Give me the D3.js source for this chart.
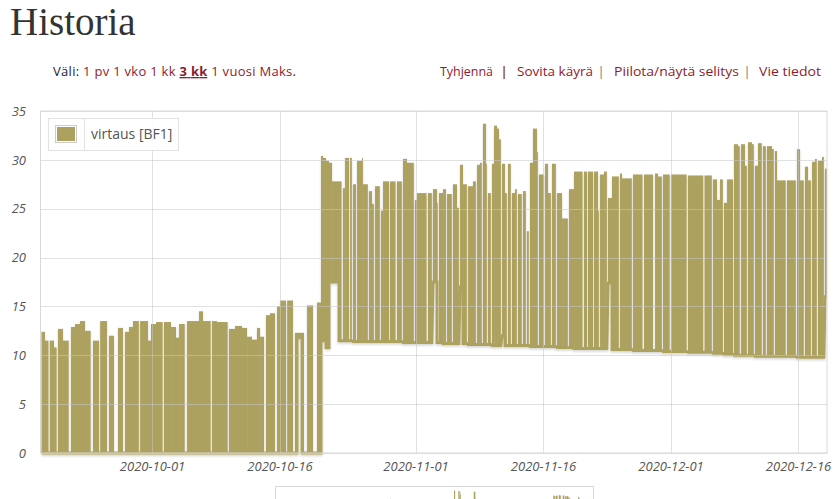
<!DOCTYPE html>
<html><head><meta charset="utf-8">
<script src="https://cdn.jsdelivr.net/npm/d3@7"></script>
<style>
body{margin:0;background:#fff;overflow:hidden}
svg{display:block}
</style>
</head><body>
<svg id="c" width="839" height="499"></svg>
<script>
// ---------------- DATA ----------------
const pageTitle = "Historia";
const seriesName = "virtaus [BF1]";
const baseDate = "2020-09-18";          // day offsets below are counted from this date (UTC)
const viewStartDay = -0.12;
const viewEndDay = 92.41;
const yTicks = [0, 5, 10, 15, 20, 25, 30, 35];
const xTickLabels = ["2020-10-01", "2020-10-16", "2020-11-01", "2020-11-16", "2020-12-01", "2020-12-16"];
const rangeLabel = "Väli:";
const rangeLinks = ["1 pv", "1 vko", "1 kk", "3 kk", "1 vuosi", "Maks"];
const activeRange = "3 kk";
const actionLinks = ["Tyhjennä", "Sovita käyrä", "Piilota/näytä selitys", "Vie tiedot"];

// flow signal blocks: start day, end day, upper value, lower value
const blockStart = [
  0.00,0.41,0.97,1.47,1.94,2.53,3.47,3.94,4.53,5.12,6.06,6.90,7.94,9.00,9.82,10.29,10.76,11.60,12.53,12.88,
  13.47,14.41,15.24,15.82,16.18,17.12,18.53,19.00,20.06,20.65,22.06,22.76,23.59,24.18,24.76,25.35,25.71,26.41,26.88,27.71,
  28.06,28.90,29.82,30.06,30.65,31.24,32.41,
  32.88,33.12,33.47,33.82,34.18,35.00,35.47,35.71,36.30,36.65,37.12,37.71,37.82,38.53,38.88,39.24,39.94,40.18,41.00,41.82,
  42.53,43.00,43.94,44.18,45.47,46.06,46.53,46.76,47.24,47.71,48.41,48.88,49.24,49.59,50.18,50.76,51.24,51.59,51.94,52.29,
  52.53,53.00,53.24,53.59,53.82,54.18,54.53,54.88,55.35,55.71,56.06,56.65,57.12,57.47,57.82,58.29,58.53,59.24,59.59,60.06,
  60.65,61.24,62.06,62.65,63.82,64.29,65.00,65.47,65.71,66.18,66.65,67.12,68.06,68.29,69.59,70.88,72.18,72.53,73.12,74.06,
  76.06,76.88,78.00,79.00,79.47,79.82,80.29,80.65,81.47,81.94,82.30,82.76,83.12,83.59,83.94,84.29,84.88,85.35,85.94,86.29,
  86.53,87.70,88.88,89.24,89.82,90.18,90.65,91.00,91.35,91.82,92.18
];
const blockEnd = [
  0.41,0.82,1.47,1.78,2.53,3.20,3.94,4.53,5.12,5.78,6.76,7.71,8.53,9.59,10.29,10.76,11.45,12.53,12.88,13.47,
  14.25,15.24,15.82,16.18,16.85,18.53,19.00,19.90,20.65,21.90,22.76,23.59,24.18,24.76,25.35,25.71,26.18,26.88,27.47,28.06,
  28.76,29.59,30.06,30.65,30.88,31.94,32.88,
  33.12,33.47,33.82,34.18,35.00,35.30,35.71,36.18,36.51,37.00,
  37.71,37.82,38.39,38.88,39.10,39.80,40.18,40.88,41.65,42.39,
  43.00,43.80,44.18,45.30,45.92,46.53,46.62,47.24,47.58,48.27,
  48.88,49.10,49.59,50.04,50.76,51.10,51.59,51.80,52.29,52.39,
  52.86,53.24,53.59,53.82,54.04,54.53,54.74,55.21,55.71,55.92,
  56.50,56.98,57.33,57.82,58.29,58.39,59.10,59.59,59.92,60.51,
  61.24,61.92,62.65,63.65,64.18,64.88,65.47,65.57,66.18,66.51,
  67.12,67.92,68.29,69.45,70.70,71.94,72.53,72.98,73.90,75.90,
  76.88,77.85,78.86,79.47,79.82,80.16,80.65,81.35,81.94,82.14,
  82.76,82.98,83.59,83.80,84.29,84.74,85.21,85.94,86.15,86.53,
  87.55,88.74,89.24,89.68,90.18,90.51,91.00,91.21,91.82,92.04,
  92.41
];
const blockHigh = [
  12.3,11.4,11.4,10.7,12.6,11.4,12.8,13.1,13.4,12.4,11.4,13.4,11.9,12.7,12.3,12.8,13.4,13.4,11.4,13.1,
  13.3,13.3,12.8,11.7,13.1,13.4,14.4,13.4,13.4,13.3,12.6,12.9,12.7,11.8,11.5,12.7,11.8,14.0,14.2,14.9,
  15.5,15.5,12.2,12.2,12.2,15.0,15.3,
  30.3,30.1,29.8,29.6,27.7,27.7,27.0,30.1,30.1,27.4,29.8,30.1,27.4,26.7,25.4,27.2,24.7,27.7,27.7,27.7,
  30.0,29.6,25.8,26.5,26.5,26.9,25.5,26.5,26.9,26.4,27.4,25.0,29.4,27.4,27.2,27.7,29.4,29.6,33.6,29.5,
  26.5,29.5,33.4,33.1,32.0,29.5,26.5,29.5,26.5,26.9,26.4,26.7,22.6,29.6,33.1,30.7,28.4,29.5,26.5,29.5,
  26.5,23.9,26.9,28.7,28.7,28.7,28.7,24.7,28.4,28.7,26.0,28.2,28.5,28.0,28.4,28.4,28.5,28.2,28.4,28.4,
  28.3,28.3,28.3,27.9,25.8,27.9,25.5,27.9,31.5,31.3,31.5,29.3,31.7,31.5,29.3,31.6,31.3,31.3,31.0,30.8,
  27.8,27.8,31.0,27.8,29.2,27.8,29.7,30.0,29.8,30.2,29.0
];
const blockLow = [
  0,0,0,0,0,0,0,0,0,0,0,0,0,0,0,0,0,0,0,0,
  0,0,0,0,0,0,0,0,0,0,0,0,0,0,0,0,0,0,0,0,
  0,0,0,11.8,0,0,0,
  11.5,11.5,10.8,17.5,17.5,11.5,11.5,11.5,11.5,11.4,11.4,11.4,11.4,11.4,11.4,11.4,11.4,11.4,11.4,11.4,
  11.3,11.3,11.3,11.3,11.3,17.5,11.3,11.3,11.2,11.2,11.2,11.2,17.0,11.2,11.1,11.1,11.1,11.1,11.1,11.1,
  11.1,11.0,11.0,11.0,11.0,12.0,11.0,11.0,11.0,11.0,11.0,11.0,11.0,10.9,10.9,10.9,10.9,10.9,10.9,10.9,
  10.8,10.8,10.8,10.7,10.7,10.7,10.7,10.7,10.7,10.7,17.4,10.6,10.6,10.6,10.5,10.5,10.5,10.5,10.4,10.4,
  10.3,10.3,10.3,10.2,10.2,10.2,10.1,10.1,10.0,10.0,10.0,10.0,10.0,10.0,9.9,9.9,9.9,9.9,9.9,9.9,
  9.9,9.9,9.8,9.8,9.8,9.8,9.8,9.8,9.8,9.8,16.0
];

// ---------------- DRAW ----------------
const svg = d3.select("#c");
const olive = "#ada15f";
const linkColor = "#8e1b2d";
const base = d3.utcParse("%Y-%m-%d")(baseDate);
const toDate = d => new Date(base.getTime() + d * 864e5);
const blocks = blockStart.map((s, i) => ({s: toDate(s), e: toDate(blockEnd[i]), hi: blockHigh[i], lo: blockLow[i]}));

// header
svg.append("text").attr("x", 10).attr("y", 34.5)
  .attr("font-family", "'Liberation Serif', 'DejaVu Serif', serif").attr("font-size", 39)
  .attr("fill", "#333").text(pageTitle);

const rt = svg.append("text").attr("x", 53).attr("y", 76)
  .attr("font-family", "'Open Sans', sans-serif").attr("font-size", 13)
  .attr("textLength", 243).attr("lengthAdjust", "spacing");
rt.append("tspan").attr("fill", "#1e2233").text(rangeLabel + " ");
rangeLinks.forEach((l, i) => {
  const t = rt.append("tspan").attr("fill", linkColor).text(l);
  if (l === activeRange) t.attr("font-weight", "bold").attr("text-decoration", "underline");
  rt.append("tspan").attr("fill", "#1e2233").text(i < rangeLinks.length - 1 ? " " : ".");
});

const actX = [440, 517, 614, 759];
const actW = [53, 76, 125, 62];
const sepX = [504, 601, 747];
actionLinks.forEach((l, i) => {
  svg.append("text").attr("x", actX[i]).attr("y", 76)
    .attr("font-family", "'Open Sans', sans-serif").attr("font-size", 13)
    .attr("textLength", actW[i]).attr("lengthAdjust", "spacingAndGlyphs")
    .attr("fill", linkColor).text(l);
  if (i < sepX.length) svg.append("text").attr("x", sepX[i]).attr("y", 76)
    .attr("font-family", "'Open Sans', sans-serif").attr("font-size", 13)
    .attr("font-weight", i === 0 ? "bold" : "normal")
    .attr("fill", i === 0 ? "#8a5a1a" : "#777").attr("text-anchor", "middle").text("|");
});

// scales
const L = 40.5, R = 827, T = 111, B = 453;
const x = d3.scaleUtc().domain([toDate(viewStartDay), toDate(viewEndDay)]).range([L, R]);
const y = d3.scaleLinear().domain([0, 35]).range([B, T]);
const tickDates = xTickLabels.map(d3.utcParse("%Y-%m-%d"));

// shadow filter
const defs = svg.append("defs");
const f = defs.append("filter").attr("id", "sh").attr("x", "-5%").attr("y", "-5%").attr("width", "110%").attr("height", "115%");
f.append("feDropShadow").attr("dx", 0).attr("dy", 1.5).attr("stdDeviation", 1)
  .attr("flood-color", "#000").attr("flood-opacity", 0.18);
defs.append("clipPath").attr("id", "clip").append("rect")
  .attr("x", L).attr("y", T - 5).attr("width", R - L).attr("height", B - T + 10);

// data
const g = svg.append("g").attr("clip-path", "url(#clip)").append("g").attr("filter", "url(#sh)");
g.selectAll("rect.b").data(blocks).join("rect").attr("class", "b")
  .attr("x", d => x(d.s)).attr("width", d => Math.max(0.5, x(d.e) - x(d.s)))
  .attr("y", d => y(d.hi) - 1).attr("height", d => y(d.lo) - y(d.hi) + 1)
  .attr("fill", olive);
const basePts = [];
blocks.forEach(d => { basePts.push([d.s, d.lo]); basePts.push([d.e, d.lo]); });
g.append("path").datum(basePts)
  .attr("d", d3.line().x(d => x(d[0])).y(d => y(d[1])))
  .attr("fill", "none").attr("stroke", olive).attr("stroke-width", 3);

// grid above data
const grid = svg.append("g").attr("stroke", "rgba(200,200,200,0.55)").attr("stroke-width", 1).attr("shape-rendering", "crispEdges");
grid.selectAll("line.h").data(yTicks).join("line")
  .attr("x1", L).attr("x2", R).attr("y1", d => Math.round(y(d)) + 0.5).attr("y2", d => Math.round(y(d)) + 0.5);
grid.selectAll("line.v").data(tickDates).join("line").attr("class", "v")
  .attr("y1", T).attr("y2", B).attr("x1", d => Math.round(x(d)) + 0.5).attr("x2", d => Math.round(x(d)) + 0.5);
svg.append("rect").attr("x", L).attr("y", T).attr("width", R - L).attr("height", B - T)
  .attr("fill", "none").attr("stroke", "#d8d8d8").attr("stroke-width", 1);

// axes
const yAxis = svg.append("g").attr("transform", `translate(26,0)`)
  .call(d3.axisLeft(y).tickValues(yTicks).tickSize(0).tickPadding(0));
const xAxis = svg.append("g").attr("transform", `translate(0,462)`)
  .call(d3.axisBottom(x).tickValues(tickDates).tickSize(0).tickPadding(0).tickFormat(d3.utcFormat("%Y-%m-%d")));
[yAxis, xAxis].forEach(a => {
  a.select(".domain").remove();
  a.selectAll("text").attr("font-family", "'Open Sans', sans-serif").attr("font-size", 13)
    .attr("font-style", "italic").attr("fill", "#555");
});

// legend
const lg = svg.append("g");
lg.append("rect").attr("x", 48.5).attr("y", 118.5).attr("width", 130).attr("height", 32)
  .attr("fill", "rgba(255,255,255,0.9)").attr("stroke", "#e2e2e2");
lg.append("line").attr("x1", 84.5).attr("x2", 84.5).attr("y1", 118.5).attr("y2", 150.5).attr("stroke", "#e2e2e2");
lg.append("rect").attr("x", 55.5).attr("y", 125.5).attr("width", 21).attr("height", 17)
  .attr("fill", "none").attr("stroke", "#ccc");
lg.append("rect").attr("x", 57).attr("y", 127).attr("width", 18).attr("height", 14).attr("fill", olive);
lg.append("text").attr("x", 91).attr("y", 139).attr("font-family", "'Open Sans', sans-serif")
  .attr("font-size", 14).attr("fill", "#555").text(seriesName);

// overview (cut off at page bottom)
const ox = d3.scaleUtc().domain([toDate(viewStartDay), toDate(viewEndDay)]).range([279, 590]);
const oy = d3.scaleLinear().domain([0, 35]).range([574, 487]);
svg.append("rect").attr("x", 275.5).attr("y", 486.5).attr("width", 318).attr("height", 40)
  .attr("fill", "#fff").attr("stroke", "#d8d8d8");
svg.append("g").selectAll("rect").data(blocks).join("rect")
  .attr("x", d => ox(d.s)).attr("width", d => Math.max(0.4, ox(d.e) - ox(d.s)))
  .attr("y", d => oy(d.hi)).attr("height", d => oy(d.lo) - oy(d.hi)).attr("fill", olive);
</script>
</body></html>
